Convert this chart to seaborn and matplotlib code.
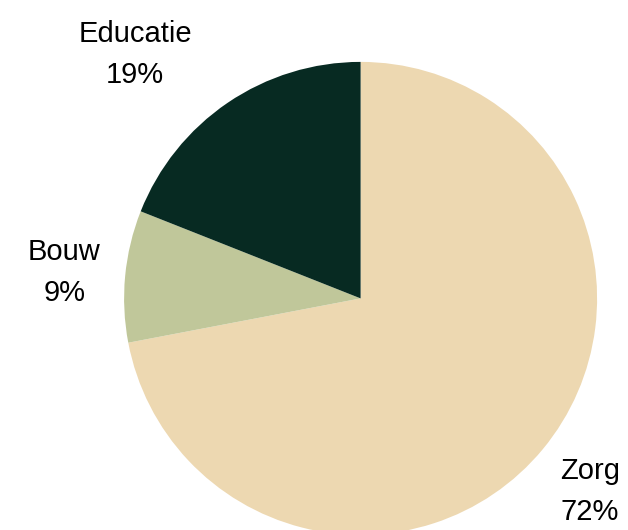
import matplotlib
matplotlib.use("Agg")
import matplotlib.pyplot as plt
import seaborn as sns

sns.set_theme(style="white")
plt.rcParams['font.family'] = ['Liberation Sans', 'DejaVu Sans']

categories = ["Zorg", "Bouw", "Educatie"]
values = [72, 9, 19]
colors = ["#EDD8B1", "#C0C79A", "#072A22"]
# label positions in axes data units (radius = 1)
label_pos = [(0.970, -0.817), (-1.253, 0.111), (-0.954, 1.030)]

W, H = 628, 530
fig = plt.figure(figsize=(W / 100, H / 100), dpi=100)
cx, cy, R = 360.6, 298.4, 236.5
ax = fig.add_axes([(cx - R) / W, (H - cy - R) / H, 2 * R / W, 2 * R / H])

wedges, _ = ax.pie(values, colors=colors, startangle=90, counterclock=False,
                   radius=1.0, center=(0, 0), wedgeprops=dict(linewidth=0))
for w in wedges:
    w.set_clip_on(False)
ax.set_xlim(-1, 1)
ax.set_ylim(-1, 1)
ax.set_aspect('equal')
ax.axis('off')

for cat, val, (x, y) in zip(categories, values, label_pos):
    ax.text(x, y, f"{cat}\n{val}%", ha='center', va='center', fontsize=21,
            color='black', linespacing=1.6, clip_on=False)

fig.savefig("out.png", dpi=100, facecolor='white')
